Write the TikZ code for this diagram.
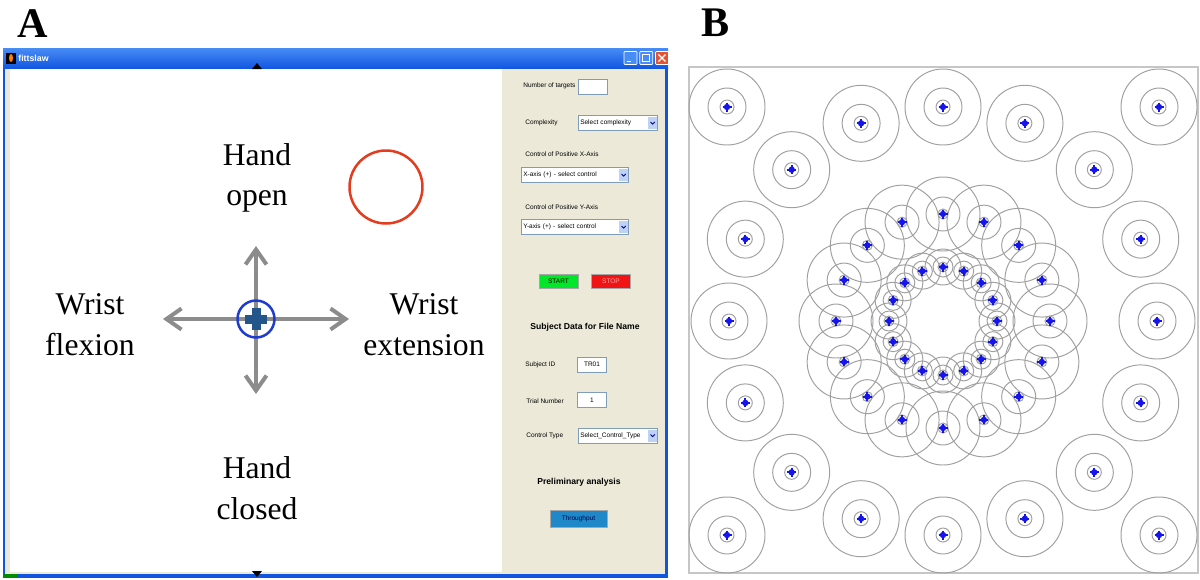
\documentclass[tikz,border=0pt]{standalone}
\usepackage{fontspec}
\setmainfont{Liberation Serif}
\setsansfont{Liberation Sans}
\usetikzlibrary{arrows.meta, positioning, calc}

\definecolor{xpblue}{RGB}{16,84,224}
\definecolor{xplight}{RGB}{72,140,245}
\definecolor{closered}{RGB}{226,84,50}
\definecolor{panelbeige}{RGB}{236,233,216}
\definecolor{arrowgray}{RGB}{140,140,140}
\definecolor{cursorblue}{RGB}{30,60,205}
\definecolor{plusblue}{RGB}{36,86,140}
\definecolor{targetred}{RGB}{228,60,30}
\definecolor{fieldedge}{RGB}{127,157,185}
\definecolor{ddblue}{RGB}{190,210,245}
\definecolor{startgreen}{RGB}{0,230,40}
\definecolor{stopred}{RGB}{240,20,20}
\definecolor{tpblue}{RGB}{30,136,200}
\definecolor{ringgray}{RGB}{160,160,160}
\definecolor{dotblue}{RGB}{20,20,235}

\begin{document}
\begin{tikzpicture}[x=0.02cm, y=-0.02cm,
    paneltag/.style={font=\fontsize{24}{26}\selectfont\bfseries, inner sep=0pt},
    move/.style={font=\fontsize{18}{23.2}\selectfont, align=center, inner sep=0pt},
    gui/.style={font=\sffamily\fontsize{3.7}{4.4}\selectfont, inner sep=0pt},
    guihead/.style={font=\sffamily\bfseries\fontsize{4.9}{6}\selectfont, inner sep=0pt},
    field/.style={gui, draw=fieldedge, fill=white, line width=0.3pt, minimum width=0.58cm, minimum height=0.3cm},
    dropdown/.style={field, text width=#1, align=left, inner xsep=0.04cm},
    ddbtn/.style={fill=ddblue, minimum width=0.18cm, minimum height=0.24cm, inner sep=0pt,
        path picture={\draw[line width=0.5pt, blue!55!black] ([shift={(-1.2pt,0.6pt)}]path picture bounding box.center) -- ++(1.2pt,-1.2pt) -- ++(1.2pt,1.2pt);}},
    button/.style={gui, draw=gray!70, line width=0.3pt, minimum width=0.78cm, minimum height=0.28cm},
    winbtn/.style={draw=white, line width=0.4pt, fill=xplight, minimum size=0.26cm, inner sep=0pt, rounded corners=0.5pt},
    axisarrow/.style={arrowgray, line width=0.08cm, -{Straight Barb[length=0.3cm, width=0.42cm]}},
    ring/.style={ringgray, line width=0.55pt}
]
\useasboundingbox (0,0) rectangle (1200,579);
\fill[white] (0,0) rectangle (1200,579);

% Panel A: window
\node[paneltag] (tagA) at (33,24) {A};
\fill[xpblue] (3,48) rectangle (668,578);
\shade[top color=xplight, bottom color=xpblue] (3,48) rectangle (668,69);
\fill[panelbeige] (5,69) rectangle (665,574);
\fill[white] (10,69) rectangle (502,572);
\fill[green!55!black] (3,574) rectangle (18,578);
\node[fill=black, minimum size=0.22cm, inner sep=0pt] (icon) at (11,58) {};
\fill[orange] (icon.center) ellipse [x radius=2, y radius=4];
\node[font=\sffamily\bfseries\fontsize{5}{6}\selectfont, text=white, anchor=west, inner sep=0pt] (title) at (18,58) {fittslaw};
\node[winbtn] (minbtn) at (630.5,58) {};
\node[winbtn, right=0.04cm of minbtn] (maxbtn) {};
\node[winbtn, fill=closered, right=0.04cm of maxbtn] (closebtn) {};
\draw[white, line width=0.8pt] ([shift={(-2.2pt,-2pt)}]minbtn.center) -- ++(2.4pt,0);
\draw[white, line width=0.5pt] ([shift={(-2pt,-2pt)}]maxbtn.center) rectangle ([shift={(2pt,2pt)}]maxbtn.center);
\draw[white, line width=0.7pt] ([shift={(-2pt,-2pt)}]closebtn.center) -- ([shift={(2pt,2pt)}]closebtn.center)
    ([shift={(-2pt,2pt)}]closebtn.center) -- ([shift={(2pt,-2pt)}]closebtn.center);
\fill (252,69) -- (262,69) -- (257,63) -- cycle;
\fill (252,571) -- (262,571) -- (257,577) -- cycle;

% movements and cursor
\node[move] (handopen) at (257,178) {Hand\\open};
\node[move] (flexion) at (90,325) {Wrist\\flexion};
\node[move] (extension) at (424,325) {Wrist\\extension};
\node[move] (handclosed) at (257,488) {Hand\\closed};
\node[draw=targetred, circle, line width=0.05cm, minimum size=1.46cm, inner sep=0pt] (goal) at (386,187) {};
\coordinate (cursor) at (256,319);
\coordinate (upend) at (256,246);
\coordinate (downend) at (256,394);
\coordinate (leftend) at (163,319);
\coordinate (rightend) at (349,319);
\draw[axisarrow] (cursor) -- (upend);
\draw[axisarrow] (cursor) -- (downend);
\draw[axisarrow] (cursor) -- (leftend);
\draw[axisarrow] (cursor) -- (rightend);
\node[draw=cursorblue, circle, line width=0.05cm, minimum size=0.74cm, inner sep=0pt] (cursorring) at (cursor) {};
\draw[plusblue, line width=0.18cm] ($(cursor)+(-11,0)$) -- ($(cursor)+(11,0)$);
\draw[plusblue, line width=0.18cm] ($(cursor)+(0,-11)$) -- ($(cursor)+(0,11)$);

% control panel
\node[gui, anchor=west] (ntlbl) at (523,86) {Number of targets};
\node[field] (ntbox) at (592.5,86.5) {};
\node[gui, anchor=west] (cxlbl) at (525,123) {Complexity};
\node[dropdown=1.5cm, anchor=west] (cxdd) at (578,123) {Select complexity};
\node[ddbtn, anchor=east] (cxbtn) at (cxdd.east) {};
\node[gui, anchor=west] (xlbl) at (525,154) {Control of Positive X-Axis};
\node[dropdown=2.06cm, anchor=west] (xdd) at (521,175) {X-axis (+) - select control};
\node[ddbtn, anchor=east] (xbtn) at (xdd.east) {};
\node[gui, anchor=west] (ylbl) at (525,207) {Control of Positive Y-Axis};
\node[dropdown=2.06cm, anchor=west] (ydd) at (521,227) {Y-axis (+) - select control};
\node[ddbtn, anchor=east] (ybtn) at (ydd.east) {};
\node[button, fill=startgreen] (start) at (558.5,281) {START};
\node[button, fill=stopred, text=red!35!white] (stop) at (611,281) {STOP};
\node[guihead] (subjhead) at (585,327) {Subject Data for File Name};
\node[gui, anchor=west] (sidlbl) at (525,365) {Subject ID};
\node[field] (sidbox) at (592,364.5) {TR01};
\node[gui, anchor=west] (triallbl) at (526,401) {Trial Number};
\node[field] (trialbox) at (592,400) {1};
\node[gui, anchor=west] (ctlbl) at (526,436) {Control Type};
\node[dropdown=1.5cm, anchor=west] (ctdd) at (578,435.5) {Select\_Control\_Type};
\node[ddbtn, anchor=east] (ctbtn) at (ctdd.east) {};
\node[guihead] (prelim) at (579,482) {Preliminary analysis};
\node[button, fill=tpblue, text=blue!30!black, minimum width=1.14cm, minimum height=0.34cm] (tput) at (578.5,518.5) {Throughput};

% Panel B: target layout
\node[paneltag] (tagB) at (716,23) {B};
\coordinate (bctr) at (943,321);
\draw[gray!45, line width=0.6pt] (689,67) rectangle (1198,573);
\foreach \R/\ra/\rb/\rc in {54/5/10/18, 107/5/17/37, 214/7/19/38}
  \foreach \k in {0,...,15}
    \draw[ring] ($(bctr)+(90+22.5*\k:\R)$) circle[radius=\ra] circle[radius=\rb] circle[radius=\rc];
\foreach \cx/\cy in {-216/-214, 216/-214, -216/214, 216/214}
  \draw[ring] ($(bctr)+(\cx,\cy)$) circle[radius=7] circle[radius=19] circle[radius=38];
\foreach \R in {54,107,214}
  \foreach \k in {0,...,15} {
    \coordinate (t) at ($(bctr)+(90+22.5*\k:\R)$);
    \fill[dotblue] (t) circle[radius=3.2];
    \draw[dotblue, line width=1pt] ($(t)+(-4.5,0)$) -- ($(t)+(4.5,0)$) ($(t)+(0,-4.5)$) -- ($(t)+(0,4.5)$);
  }
\foreach \cx/\cy in {-216/-214, 216/-214, -216/214, 216/214} {
  \coordinate (t) at ($(bctr)+(\cx,\cy)$);
  \fill[dotblue] (t) circle[radius=3.2];
  \draw[dotblue, line width=1pt] ($(t)+(-4.5,0)$) -- ($(t)+(4.5,0)$) ($(t)+(0,-4.5)$) -- ($(t)+(0,4.5)$);
}
\end{tikzpicture}
\end{document}
